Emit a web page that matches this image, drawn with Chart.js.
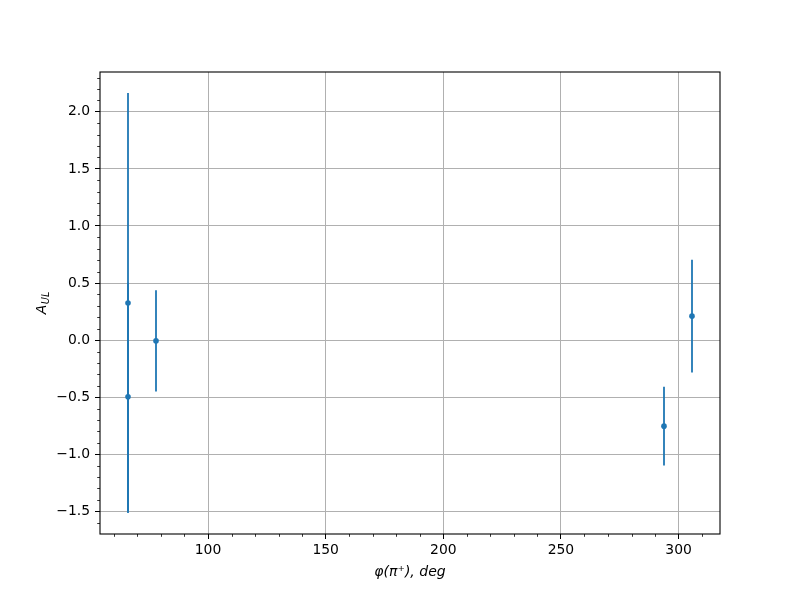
<!DOCTYPE html>
<html>
<head>
<meta charset="utf-8">
<script src="https://cdn.jsdelivr.net/npm/chart.js@4/dist/chart.umd.min.js"></script>
<style>
  html, body { margin: 0; padding: 0; background: #ffffff; }
  #wrap { width: 800px; height: 600px; }
</style>
</head>
<body>
<div id="wrap"><canvas id="c" width="800" height="600"></canvas></div>
<script>
// ---- data ----
const phiValues = [66.0, 66.0, 77.9, 293.8, 305.7];
const aulValues = [0.325, -0.497, -0.007, -0.754, 0.21];
const aulErrors = [1.84, 1.0, 0.444, 0.345, 0.494];
const xTickValues = [100, 150, 200, 250, 300];
const yTickValues = [-1.5, -1.0, -0.5, 0.0, 0.5, 1.0, 1.5, 2.0];
const xTitleText = "φ(π⁺), deg";
const yTitleMain = "A";
const yTitleSub = "UL";

const blue = '#1f77b4';
const FONT = "'DejaVu Sans', sans-serif";

const points = phiValues.map((x, i) => ({ x: x, y: aulValues[i] }));

const fmt = v => {
  const s = Number(v).toFixed(1);
  return s.startsWith('-') ? '\u2212' + s.slice(1) : s;
};

const errorBarPlugin = {
  id: 'errorBars',
  beforeDatasetsDraw(chart) {
    const { ctx, scales: { x, y } } = chart;
    ctx.save();
    ctx.strokeStyle = blue;
    ctx.lineWidth = 1.8;
    ctx.lineCap = 'butt';
    for (let i = 0; i < phiValues.length; i++) {
      const px = x.getPixelForValue(phiValues[i]);
      const y1 = y.getPixelForValue(aulValues[i] - aulErrors[i]);
      const y2 = y.getPixelForValue(aulValues[i] + aulErrors[i]);
      ctx.beginPath();
      ctx.moveTo(px, y1);
      ctx.lineTo(px, y2);
      ctx.stroke();
    }
    ctx.restore();
  }
};

const framePlugin = {
  id: 'frame',
  afterDraw(chart) {
    const { ctx, chartArea: a, scales: { x, y } } = chart;
    ctx.save();
    // minor ticks
    ctx.strokeStyle = '#000';
    ctx.lineWidth = 0.8;
    for (let k = -17; k <= 23; k++) {
      if (k % 5 === 0) continue;
      const v = k / 10;
      if (v < y.min || v > y.max) continue;
      const py = Math.round(y.getPixelForValue(v)) + 0.5;
      ctx.beginPath();
      ctx.moveTo(a.left, py);
      ctx.lineTo(a.left - 2.8, py);
      ctx.stroke();
    }
    for (let v = 60; v <= 310; v += 10) {
      if (v % 50 === 0) continue;
      if (v < x.min || v > x.max) continue;
      const px = Math.round(x.getPixelForValue(v)) + 0.5;
      ctx.beginPath();
      ctx.moveTo(px, a.bottom);
      ctx.lineTo(px, a.bottom + 2.8);
      ctx.stroke();
    }
    // spines
    ctx.lineWidth = 1.1;
    ctx.strokeRect(a.left, a.top, a.right - a.left, a.bottom - a.top);
    // y title with subscript
    ctx.fillStyle = '#000';
    ctx.translate(41, (a.top + a.bottom) / 2);
    ctx.rotate(-Math.PI / 2);
    ctx.textBaseline = 'alphabetic';
    ctx.font = "italic 14px " + FONT;
    const wA = ctx.measureText(yTitleMain).width;
    ctx.font = "italic 9.8px " + FONT;
    const wS = ctx.measureText(yTitleSub).width;
    const total = wA + wS + 0.5;
    ctx.font = "italic 14px " + FONT;
    ctx.fillText(yTitleMain, -total / 2, 5);
    ctx.font = "italic 9.8px " + FONT;
    ctx.fillText(yTitleSub, -total / 2 + wA + 0.5, 8);
    ctx.restore();
  }
};

new Chart(document.getElementById('c'), {
  type: 'scatter',
  data: {
    datasets: [{
      label: 'A_UL',
      data: points,
      backgroundColor: blue,
      borderColor: blue,
      pointRadius: 2.8,
      pointHoverRadius: 2.8,
      borderWidth: 0,
      showLine: false
    }]
  },
  options: {
    responsive: false,
    animation: false,
    devicePixelRatio: 1,
    layout: { padding: { left: 0, top: 72, right: 80, bottom: 0 } },
    plugins: { legend: { display: false }, tooltip: { enabled: false } },
    scales: {
      x: {
        type: 'linear',
        min: 54.1,
        max: 317.6,
        afterBuildTicks(scale) { scale.ticks = xTickValues.map(v => ({ value: v })); },
        afterFit(scale) { scale.height = 66; },
        border: { display: false },
        grid: { color: '#b0b0b0', lineWidth: 1, drawTicks: true, tickLength: 5, tickColor: '#000', tickWidth: 1 },
        ticks: {
          color: '#000', padding: 3, maxRotation: 0, autoSkip: false,
          font: { family: FONT, size: 13.9 },
          callback: v => String(v)
        },
        title: {
          display: true, text: xTitleText, color: '#000',
          font: { family: FONT, size: 14, style: 'italic' },
          padding: { top: 0, bottom: 19.6 }
        }
      },
      y: {
        type: 'linear',
        min: -1.699,
        max: 2.349,
        afterBuildTicks(scale) { scale.ticks = yTickValues.map(v => ({ value: v })); },
        afterFit(scale) { scale.width = 100; },
        border: { display: false },
        grid: { color: '#b0b0b0', lineWidth: 1, drawTicks: true, tickLength: 5, tickColor: '#000', tickWidth: 1 },
        ticks: {
          color: '#000', padding: 5, autoSkip: false,
          font: { family: FONT, size: 13.9 },
          callback: v => fmt(v)
        }
      }
    }
  },
  plugins: [errorBarPlugin, framePlugin]
});
</script>
</body>
</html>
